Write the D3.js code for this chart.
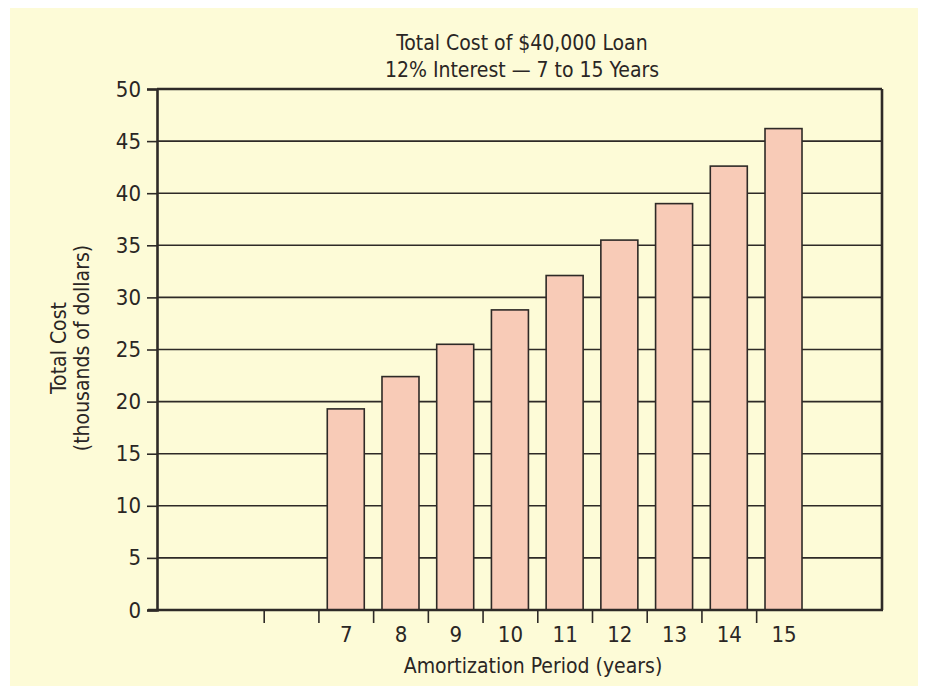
<!DOCTYPE html>
<html lang="en">

<head>
    <meta charset="utf-8">
    <title>Total Cost of $40,000 Loan</title>
    <script src="https://d3js.org/d3.v7.min.js"></script>
    <style type="text/css">
        body { margin: 0; background: #fff; }
        svg text { font-family: "Liberation Sans Narrow", "DejaVu Sans Condensed", sans-serif; fill: #2a2624; }
    </style>
</head>

<body>
    <script type="text/javascript">

        // chart data
        var years = [7, 8, 9, 10, 11, 12, 13, 14, 15];
        var totalCost = [19.3, 22.4, 25.5, 28.8, 32.1, 35.5, 39.0, 42.6, 46.2];
        var yTicks = [0, 5, 10, 15, 20, 25, 30, 35, 40, 45, 50];
        var xDividers = [5.5, 6.5, 7.5, 8.5, 9.5, 10.5, 11.5, 12.5, 13.5, 14.5];
        var titleLines = ["Total Cost of $40,000 Loan", "12% Interest \u2014 7 to 15 Years"];

        var w = 925, h = 686;
        var plotL = 157, plotR = 882, plotT = 89, plotB = 610;
        var ink = "#2e2a27";
        var fontStack = "'Liberation Sans Narrow', 'DejaVu Sans Condensed', sans-serif";

        var svg = d3.select("body").append("svg")
            .attr("width", w)
            .attr("height", h);

        // cream paper
        svg.append("rect")
            .attr("x", 10).attr("y", 8)
            .attr("width", 908).attr("height", h - 8)
            .attr("fill", "#fdfbd7");

        var x = d3.scaleLinear().domain([3.55, 16.8]).range([plotL, plotR]);
        var y = d3.scaleLinear().domain([0, 50]).range([plotB, plotT]);
        var barW = 37;

        // gridlines (behind bars)
        svg.append("g")
            .selectAll("line")
            .data(yTicks.slice(1, -1))
            .enter()
            .append("line")
            .attr("x1", plotL).attr("x2", plotR)
            .attr("y1", function (d) { return y(d); })
            .attr("y2", function (d) { return y(d); })
            .attr("stroke", ink)
            .attr("stroke-width", 1.6);

        // bars
        svg.selectAll("rect.bar")
            .data(totalCost)
            .enter()
            .append("rect")
            .attr("class", "bar")
            .attr("x", function (d, i) { return x(years[i]) - barW / 2; })
            .attr("y", function (d) { return y(d); })
            .attr("width", barW)
            .attr("height", function (d) { return plotB - y(d); })
            .attr("fill", "#f8cbb7")
            .attr("stroke", ink)
            .attr("stroke-width", 1.6);

        // frame: top and right
        svg.append("line")
            .attr("x1", plotL).attr("x2", plotR)
            .attr("y1", plotT).attr("y2", plotT)
            .attr("stroke", ink).attr("stroke-width", 2.6);
        svg.append("line")
            .attr("x1", plotR).attr("x2", plotR)
            .attr("y1", plotT).attr("y2", plotB)
            .attr("stroke", ink).attr("stroke-width", 2.6);

        // y axis
        var yAxis = svg.append("g")
            .attr("transform", "translate(" + plotL + ",0)")
            .call(d3.axisLeft(y).tickValues(yTicks).tickSize(10).tickPadding(6));
        yAxis.select(".domain").attr("stroke", ink).attr("stroke-width", 2.6);
        yAxis.selectAll(".tick line").attr("stroke", ink).attr("stroke-width", 1.6);
        yAxis.selectAll("text").attr("font-size", "22px").attr("fill", ink)
            .style("font-family", fontStack);

        // x axis: divider ticks
        var xAxis = svg.append("g")
            .attr("transform", "translate(0," + plotB + ")")
            .call(d3.axisBottom(x).tickValues(xDividers).tickSize(13).tickFormat(""));
        xAxis.select(".domain").remove();
        xAxis.selectAll(".tick line").attr("stroke", ink).attr("stroke-width", 1.6);
        svg.append("line")
            .attr("x1", plotL - 9).attr("x2", plotR + 1)
            .attr("y1", plotB).attr("y2", plotB)
            .attr("stroke", ink).attr("stroke-width", 2.6);

        // x axis: year labels
        var xLab = svg.append("g")
            .attr("transform", "translate(0," + plotB + ")")
            .call(d3.axisBottom(x).tickValues(years).tickSize(0).tickPadding(16).tickFormat(d3.format("d")));
        xLab.select(".domain").remove();
        xLab.selectAll("text").attr("font-size", "22px").attr("fill", ink)
            .style("font-family", fontStack);

        // titles
        svg.selectAll("text.title")
            .data(titleLines)
            .enter()
            .append("text")
            .attr("class", "title")
            .attr("x", 522)
            .attr("y", function (d, i) { return 50 + i * 27; })
            .attr("text-anchor", "middle")
            .attr("font-size", "21px")
            .text(function (d) { return d; });

        svg.append("text")
            .attr("x", 533).attr("y", 673)
            .attr("text-anchor", "middle")
            .attr("font-size", "21px")
            .text("Amortization Period (years)");

        var yl = svg.append("text")
            .attr("transform", "translate(66,348) rotate(-90)")
            .attr("text-anchor", "middle")
            .attr("font-size", "21px");
        yl.append("tspan").attr("x", 0).attr("dy", 0).text("Total Cost");
        yl.append("tspan").attr("x", 0).attr("dy", 23).text("(thousands of dollars)");

    </script>
</body>

</html>
